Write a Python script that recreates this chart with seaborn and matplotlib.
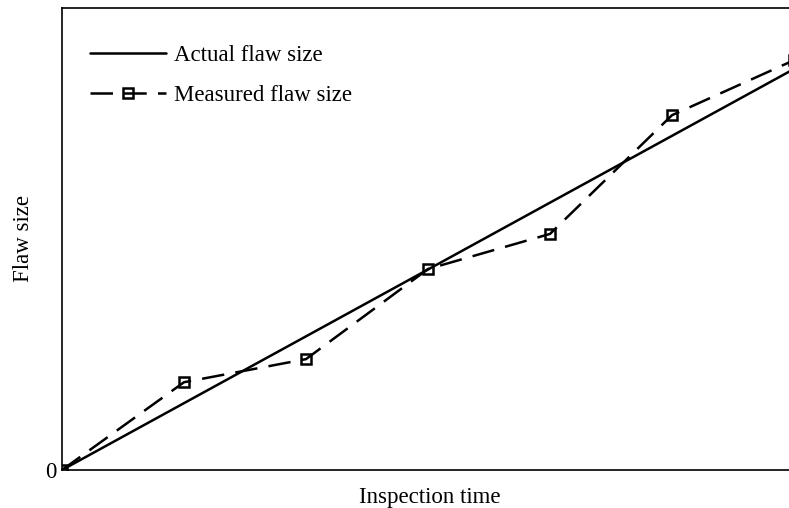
import matplotlib
matplotlib.use("Agg")
import matplotlib.pyplot as plt
import seaborn as sns
import pandas as pd

# Inspection instants and flaw sizes (arbitrary units)
inspection_time = [0, 1, 2, 3, 4, 5, 6]
actual_size = [0.0, 1.447, 2.893, 4.34, 5.787, 7.233, 8.68]
measured_size = [0.0, 1.90, 2.40, 4.35, 5.11, 7.68, 8.87]

df = pd.DataFrame({
    "time": inspection_time,
    "actual": actual_size,
    "measured": measured_size,
})

sns.set_theme(style="white")
plt.rcParams["font.family"] = ["Liberation Serif", "DejaVu Serif"]
plt.rcParams["text.color"] = "black"
plt.rcParams["axes.labelcolor"] = "black"
plt.rcParams["ytick.color"] = "black"

FS = 16.5
W, H = 789, 508
fig = plt.figure(figsize=(W / 100, H / 100), dpi=100)
left, right, top, bottom = 62, 797, 8, 470
ax = fig.add_axes([left / W, 1 - bottom / H, (right - left) / W, (bottom - top) / H])

sns.lineplot(data=df, x="time", y="actual", ax=ax, color="black", lw=1.8,
             label="Actual flaw size")
sns.lineplot(data=df, x="time", y="measured", ax=ax, color="black", lw=1.8,
             dashes=False, linestyle=(0, (9, 4.5)), marker="s", markersize=7.5,
             markerfacecolor="none", markeredgecolor="black", markeredgewidth=1.8,
             label="Measured flaw size")

ax.set_xlim(0, 6 * (right - left) / (794 - left))
ax.set_ylim(0, 10)
ax.set_xticks([])
ax.set_yticks([0])
ax.set_yticklabels(["0"], fontsize=FS)
ax.tick_params(axis="y", length=0, pad=4)
ax.set_xlabel("Inspection time", fontsize=FS, labelpad=12)
ax.set_ylabel("Flaw size", fontsize=FS, labelpad=8)

for side in ["left", "bottom", "top", "right"]:
    ax.spines[side].set_color("black")
    ax.spines[side].set_linewidth(1.2)

leg = ax.legend(loc="upper left", bbox_to_anchor=(0.01, 0.965), frameon=False,
                fontsize=FS, handlelength=3.3, handletextpad=0.35, labelspacing=0.85)

fig.savefig("out.png", dpi=100)
